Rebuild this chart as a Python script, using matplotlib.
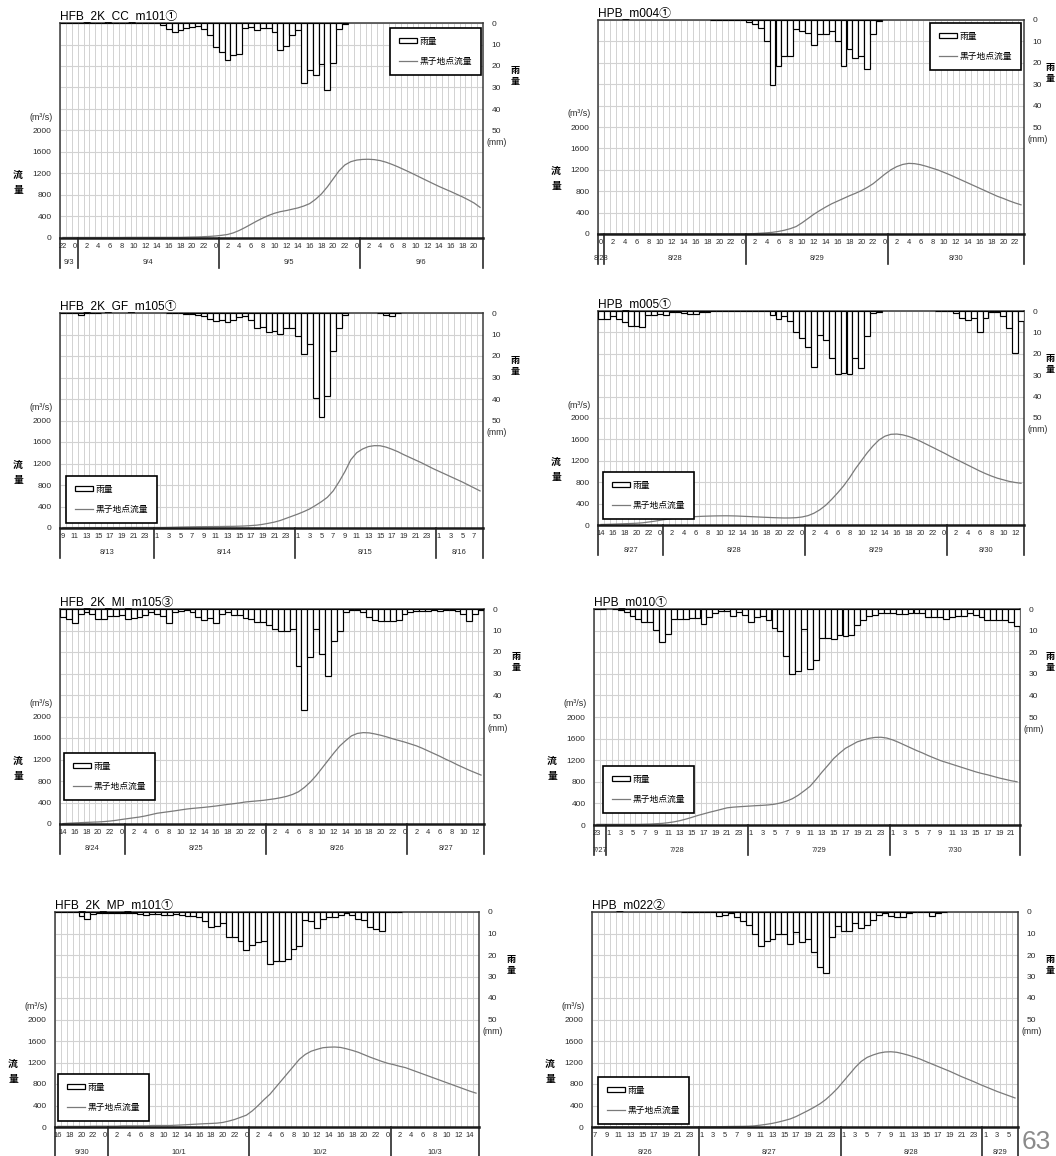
import numpy as np
import matplotlib
matplotlib.use('Agg')
import matplotlib.pyplot as plt
from matplotlib.patches import Patch
from matplotlib.lines import Line2D

plt.rcParams['font.family'] = ['Liberation Sans', 'Noto Sans CJK JP']

nan = np.nan
W, H = 1056, 1156

titles = ['HFB_2K_CC_m101①', 'HPB_m004①', 'HFB_2K_GF_m105①', 'HPB_m005①',
          'HFB_2K_MI_m105③', 'HPB_m010①', 'HFB_2K_MP_m101①', 'HPB_m022②']
start_hours = [22, 0, 9, 14, 14, 23, 16, 7]
dates = [['9/3', '9/4', '9/5', '9/6'],
         ['8/28', '8/28', '8/29', '8/30'],
         ['8/13', '8/14', '8/15', '8/16'],
         ['8/27', '8/28', '8/29', '8/30'],
         ['8/24', '8/25', '8/26', '8/27'],
         ['7/27', '7/28', '7/29', '7/30'],
         ['9/30', '10/1', '10/2', '10/3'],
         ['8/26', '8/27', '8/28', '8/29']]

# hourly rainfall (mm), nan = no data
rain_1 = [0] * 17 + [0.8, 3.0, 4.3, 3.4, 2.5, 1.9, 1.5, 2.8, 5.4, 11.3, 13.3, 17.0, 14.7, 14.2,
                     2.5, 2.0, 3.4, 2.2, 2.2, 4.2, 12.7, 10.5, 5.4, 3.1, 27.8, 22.0, 24.0, 19.3,
                     31.3, 18.5, 2.8, 0.3] + [nan] * 23
rain_2 = [nan] * 19 + [0] * 6 + [1.1, 1.9, 3.7, 9.9, 30.5, 21.5, 16.9, 16.9, 4.2, 5.0, 6.2, 11.6,
                                 6.5, 6.5, 5.0, 9.6, 21.7, 13.5, 17.7, 17.0, 23.0, 6.5, 0.3] + [nan] * 24
rain_3 = [0, 0, 0, 0.8, 0, 0, 0] + [nan] * 11 + [0, 0, 0, 0.3, 0.5, 0.8] + \
         [1.5, 2.6, 3.9, 3.1, 4.2, 3.1, 1.9, 1.4, 3.1, 6.8, 6.5, 8.8, 8.3, 9.6, 6.8, 6.8, 10.8,
          19.2, 14.2, 39.7, 48.2, 38.6, 17.8, 7.0, 1.1] + [nan] * 5 + [0, 0.8, 1.5, 0] + [nan] * 14
rain_4 = [3.6, 3.6, 2.5, 3.6, 5.1, 7.1, 7.1, 7.7, 2.0, 2.0, 1.5, 2.0, 0.6, 0.6, 0.9, 1.5, 1.5, 0.5, 0.3] + \
         [0] * 10 + [2.0, 3.6, 2.5, 4.6, 9.8, 12.4, 16.7, 26.3, 11.3, 13.6, 22.1, 29.6, 29.1, 29.4,
                     22.1, 26.8, 11.6, 0.9, 0.3] + [nan] * 9 + \
         [0, 0, 0, 0.9, 3.1, 4.0, 3.4, 10.0, 3.4, 0.6, 0.6, 2.5, 7.9, 19.8, 4.6]
rain_5 = [3.7, 4.7, 6.5, 2.5, 1.2, 2.5, 4.7, 4.5, 3.2, 3.2,
          3.0, 4.5, 4.2, 3.8, 3.0, 1.5, 2.5, 3.2, 6.5, 1.2,
          0.8, 0.3, 1.5, 3.5, 5.2, 4.0, 6.5, 2.5, 1.2, 2.8,
          2.8, 4.0, 4.5, 6.0, 6.2, 7.5, 9.5, 10.2, 10.0, 9.5,
          26.5, 47.2, 22.5, 9.5, 21.0, 31.2, 14.7, 10.0, 1.2, 0.3,
          0.5, 1.2, 3.5, 5.0, 5.8, 5.8, 5.8, 5.0, 2.5, 1.2,
          1.0, 1.0, 0.8, 0.3, 0.8, 0.3, 0.5, 0.8, 2.5, 5.8,
          2.5, 0.5]
rain_6 = [0, 0, nan, 0, 0.5, 1.5, 3.1, 4.6, 6.0, 6.0, 9.6, 15.4, 11.4, 4.6, 4.6, 4.6, 4.2, 4.2,
          7.0, 3.9, 1.9, 0.8, 1.1, 3.4, 1.5, 2.6, 6.2, 3.9, 3.1, 4.9, 8.8, 10.0, 21.9, 30.0, 28.9,
          9.3, 27.6, 23.5, 13.4, 13.4, 13.9, 11.9, 12.3, 11.9, 7.6, 4.9, 3.4, 2.9, 1.9, 1.9, 1.9,
          2.3, 2.2, 1.9, 1.9, 1.9, 3.9, 3.9, 3.9, 4.5, 3.9, 3.4, 3.4, 1.9, 2.6, 3.9, 4.9, 4.9,
          4.9, 5.2, 6.2, 8.0]
rain_7 = [0, 0, 0, 0, 2.0, 3.3, 0.9, 0.5, 0.3, 0.3, 0.5, 0.5, 0.5, 0.5, 0.9, 1.2, 0.9, 0.9, 1.2,
          1.2, 0.9, 1.2, 1.7, 1.7, 2.5, 4.0, 7.0, 6.4, 5.1, 11.6, 11.8, 13.4, 17.9, 15.2, 14.1,
          13.7, 24.2, 23.0, 23.0, 21.9, 17.1, 15.7, 3.6, 4.3, 7.5, 3.3, 2.5, 2.5, 1.2, 0.5, 1.6,
          3.1, 3.6, 7.0, 7.9, 9.0, 0, 0, 0] + [nan] * 13
rain_8 = [nan] * 15 + [0] * 6 + [1.7, 1.2, 0.5, 2.5, 4.0, 5.9, 10.2, 16.0, 13.7, 12.6, 10.2, 10.2,
                                 14.8, 9.3, 14.1, 12.6, 18.6, 25.6, 28.4, 11.8, 6.7, 9.0, 8.7, 5.1,
                                 7.5, 5.9, 3.9, 1.2, 0.5, 2.0, 2.3, 2.3, 0.5, 0.2, 0.2, 0.2, 1.7,
                                 0.5, 0] + [nan] * 12

# hourly discharge at Kuroko (m3/s)
flow_1 = [10] * 11 + [12] * 10 + [15, 18, 20, 25, 30, 38, 50, 65, 95, 140, 195, 255, 315, 370, 420,
                                  460, 490, 510, 535, 560, 595, 640, 720, 820, 950, 1100, 1250, 1360,
                                  1420, 1450, 1462, 1465, 1458, 1440, 1410, 1370, 1325, 1275, 1225,
                                  1172, 1118, 1065, 1012, 960, 912, 865, 815, 765, 710, 650, 570]
flow_2 = [0] * 25 + [3, 8, 15, 22, 32, 48, 70, 100, 140, 210, 290, 370, 440, 505, 565, 615, 665,
                     715, 760, 810, 870, 940, 1030, 1120, 1200, 1260, 1300, 1320, 1315, 1295, 1265,
                     1230, 1195, 1150, 1105, 1055, 1005, 955, 905, 855, 805, 755, 705, 665, 620,
                     580, 545]
flow_3 = [8] * 11 + [10] * 7 + [12, 15, 18, 20, 22, 24, 25, 26, 27, 28, 30, 31, 34, 38, 45, 53, 68,
                               88, 110, 140, 180, 220, 260, 305, 355, 420, 490, 570, 690, 860, 1050,
                               1270, 1400, 1470, 1515, 1532, 1530, 1505, 1465, 1420, 1365, 1315,
                               1265, 1215, 1160, 1105, 1055, 1005, 955, 905, 855, 800, 745, 690]
flow_4 = [10, 12, 16, 20, 24, 28, 33, 40, 55, 70, 88, 105, 120, 132, 142, 150, 157, 162, 166, 169,
          171, 172, 171, 168, 163, 158, 153, 148, 143, 138, 134, 131, 132, 137, 150, 175, 220, 285,
          370, 480, 600, 730, 880, 1050, 1200, 1350, 1480, 1590, 1660, 1695, 1700, 1685, 1655,
          1615, 1565, 1510, 1455, 1400, 1345, 1285, 1230, 1175, 1120, 1065, 1010, 960, 915, 875,
          845, 815, 795, 780]
flow_5 = [8, 15, 20, 25, 30, 34, 38, 45, 55, 68, 85, 100, 115, 130, 150, 175, 200, 215, 230, 245,
          262, 278, 290, 300, 310, 322, 335, 350, 365, 378, 392, 410, 420, 430, 440, 455, 470,
          490, 515, 550, 600, 680, 780, 900, 1040, 1180, 1320, 1450, 1550, 1640, 1685, 1700, 1695,
          1675, 1650, 1620, 1585, 1555, 1525, 1490, 1455, 1410, 1360, 1310, 1260, 1205, 1155,
          1100, 1050, 1000, 955, 910]
flow_6 = [12] * 8 + [15, 18, 24, 30, 42, 58, 80, 108, 140, 175, 205, 235, 262, 290, 318, 330, 338,
                     345, 352, 359, 364, 372, 385, 408, 440, 485, 550, 630, 715, 840, 975, 1100,
                     1230, 1330, 1420, 1480, 1540, 1575, 1605, 1622, 1625, 1610, 1575, 1530, 1480,
                     1430, 1380, 1335, 1285, 1240, 1195, 1160, 1125, 1090, 1055, 1020, 985, 955,
                     930, 900, 870, 845, 820, 800]
flow_7 = [12] * 6 + [16] * 5 + [22] * 5 + [28] * 4 + [33, 38, 44, 50, 56, 62, 66, 72, 85, 110, 140,
                                                     180, 220, 300, 400, 510, 610, 740, 870, 1000,
                                                     1130, 1260, 1350, 1410, 1445, 1475, 1485,
                                                     1488, 1480, 1455, 1425, 1390, 1345, 1300,
                                                     1260, 1220, 1185, 1160, 1130, 1105, 1065,
                                                     1025, 985, 945, 905, 865, 825, 785, 745, 705,
                                                     665, 630]
flow_8 = [5] * 21 + [6, 8, 10, 11, 12, 15, 22, 35, 50, 68, 92, 120, 150, 195, 250, 305, 365, 430,
                     510, 610, 720, 850, 980, 1110, 1220, 1295, 1340, 1375, 1395, 1400, 1390, 1365,
                     1335, 1300, 1262, 1215, 1170, 1125, 1080, 1035, 985, 935, 890, 845, 795, 750,
                     705, 660, 620, 580, 540]

rains = [rain_1, rain_2, rain_3, rain_4, rain_5, rain_6, rain_7, rain_8]
flows = [flow_1, flow_2, flow_3, flow_4, flow_5, flow_6, flow_7, flow_8]

# plot boxes in pixels: left, top, right, bottom
boxes = [(60, 23, 483, 238), (598, 20, 1024, 234),
         (60, 313, 483, 528), (598, 311, 1024, 525),
         (60, 609, 484, 824), (594, 609, 1020, 825),
         (55, 912, 479, 1127), (592, 912, 1018, 1127)]
legend_pos = [(390, 28), (930, 23), (66, 476), (603, 472),
              (64, 753), (603, 766), (58, 1074), (598, 1077)]

fig = plt.figure(figsize=(W / 100, H / 100), dpi=100)

GRID = '#d2d2d2'
TXT = '#2a2a2a'


def draw_panel(k):
    l, t, r, b = boxes[k]
    hpx = b - t
    ax = fig.add_axes([l / W, 1 - b / H, (r - l) / W, hpx / H])
    n = 72
    x = np.arange(n) + 0.5
    hours = (start_hours[k] + np.arange(n)) % 24

    ax.set_xlim(0, n)
    ax.set_ylim(0, 4000)
    ax.set_xticks(x[::2])
    ax.set_xticklabels([str(h) for h in hours[::2]], fontsize=5.4, color=TXT)
    ax.set_xticks(np.arange(n + 1), minor=True)
    ax.set_yticks(np.arange(0, 4001, 400))
    ax.set_yticklabels([str(v) if v <= 2000 else '' for v in range(0, 4001, 400)],
                       fontsize=6, color=TXT)
    ax.tick_params(which='both', length=0)
    ax.tick_params(axis='x', pad=3.5)
    ax.tick_params(axis='y', pad=6)
    ax.grid(which='minor', axis='x', color=GRID, lw=0.7)
    ax.grid(which='major', axis='y', color=GRID, lw=0.8)
    ax.set_axisbelow(True)
    for s in ['top', 'left', 'right']:
        ax.spines[s].set_color('#3a3a3a')
        ax.spines[s].set_linewidth(1.1)
    ax.spines['bottom'].set_color('#1a1a1a')
    ax.spines['bottom'].set_linewidth(1.8)

    ax.plot(x, flows[k], color='#7a7a7a', lw=0.9)

    ax2 = ax.twinx()
    ax2.set_ylim(100, 0)
    ax2.set_yticks(np.arange(0, 101, 10))
    ax2.set_yticklabels([str(v) if v <= 50 else '' for v in range(0, 101, 10)],
                        fontsize=6, color=TXT)
    ax2.tick_params(length=0, pad=6)
    for s in ax2.spines.values():
        s.set_visible(False)
    rain = np.array(rains[k], dtype=float)
    ok = ~np.isnan(rain)
    ax2.bar(x[ok], rain[ok], width=1.0, color='white', edgecolor='black', lw=0.85)

    # date groups under the hour labels
    bounds = [0] + [i + 1 for i in range(n - 1) if hours[i] == 0] + [n]
    tr = ax.get_xaxis_transform()
    for xb in bounds:
        ax.plot([xb, xb], [0, -30 / hpx], transform=tr, clip_on=False,
                color='#2a2a2a', lw=1.2)
    for j in range(len(bounds) - 1):
        ax.text((bounds[j] + bounds[j + 1]) / 2, -25 / hpx, dates[k][j], transform=tr,
                ha='center', va='center', fontsize=5.4, color=TXT)

    # titles and axis captions
    fig.text(l / W, 1 - (t - 4) / H, titles[k], ha='left', va='baseline', fontsize=8.6)
    ymid = t + hpx / 2
    fig.text((l - 19) / W, 1 - (ymid - 13) / H, '(m³/s)', ha='center', va='center',
             fontsize=6.4, color=TXT)
    fig.text((l - 42) / W, 1 - (t + 0.705 * hpx) / H, '流', ha='center', va='center',
             fontsize=7, fontweight='bold')
    fig.text((l - 42) / W, 1 - (t + 0.705 * hpx + 15) / H, '量', ha='center', va='center',
             fontsize=7, fontweight='bold')
    fig.text((r + 14) / W, 1 - (ymid + 12) / H, '(mm)', ha='center', va='center',
             fontsize=6.2, color=TXT)
    xr = min(r + 32, W - 6)
    fig.text(xr / W, 1 - (t + 0.22 * hpx) / H, '雨', ha='center', va='center',
             fontsize=6.5, fontweight='bold')
    fig.text(xr / W, 1 - (t + 0.22 * hpx + 11) / H, '量', ha='center', va='center',
             fontsize=6.5, fontweight='bold')

    handles = [Patch(facecolor='white', edgecolor='black', lw=0.9, label='雨量'),
               Line2D([], [], color='#7a7a7a', lw=0.9, label='黒子地点流量')]
    lx, ly = legend_pos[k]
    leg = ax2.legend(handles=handles, loc='upper left', bbox_to_anchor=(lx / W, 1 - ly / H),
                     bbox_transform=fig.transFigure, borderaxespad=0, fontsize=6.3,
                     handlelength=2.1, handleheight=0.45, handletextpad=0.3, borderpad=1.0,
                     labelspacing=1.3, fancybox=False, framealpha=1, edgecolor='black')
    leg.get_frame().set_linewidth(1.2)


for k in range(8):
    draw_panel(k)

fig.text(1022 / W, 1 - 1149 / H, '63', ha='left', va='baseline', fontsize=19, color='#8a8a8a')

fig.savefig('out.png', dpi=100)
